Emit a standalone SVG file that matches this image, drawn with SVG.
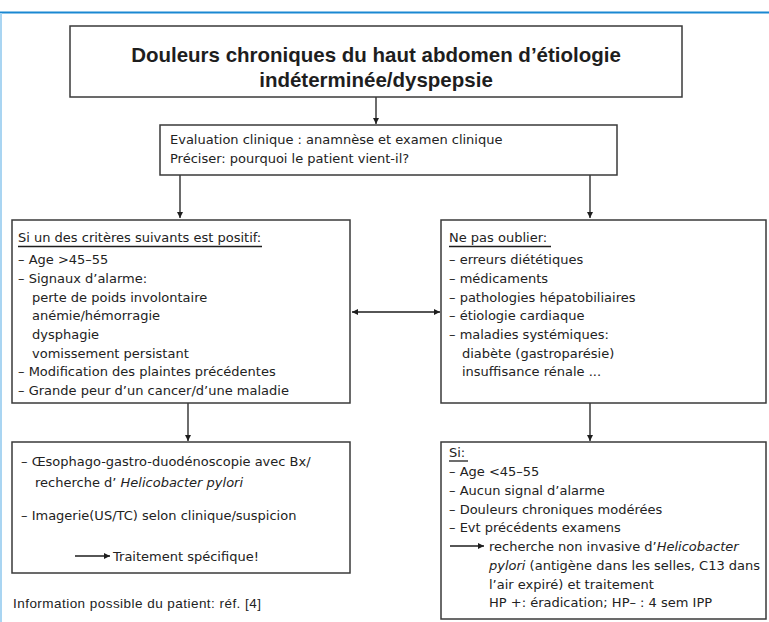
<svg xmlns="http://www.w3.org/2000/svg" width="769" height="622" viewBox="0 0 769 622">
<style>
.box{fill:#fff;stroke:#3a3a3a;stroke-width:1.5}
.t{font-family:"DejaVu Sans","Liberation Sans",Arial,sans-serif;font-size:13px;fill:#222}
.s{font-family:"Liberation Sans",Arial,sans-serif;font-size:13.5px;fill:#222}
.h{font-family:"Liberation Sans",Arial,sans-serif;font-size:20.5px;font-weight:bold;fill:#1e1e1e}
.c{stroke:#1e1e1e;stroke-width:1.3;fill:none}
.u{stroke:#1e1e1e;stroke-width:1.3}
</style>
<defs>
<marker id="ah" viewBox="0 0 8 8" refX="8" refY="4" markerWidth="6" markerHeight="6" markerUnits="userSpaceOnUse" orient="auto-start-reverse">
<path d="M0,0 L8,4 L0,8 z" fill="#1e1e1e"/>
</marker>
</defs>
<rect width="769" height="622" fill="#fff"/>
<line x1="0" y1="12.5" x2="769" y2="12.5" stroke="#1a88d2" stroke-width="2"/>
<line x1="1" y1="13" x2="1" y2="622" stroke="#a9d5f2" stroke-width="2"/>

<g id="connectors">
<line class="c" x1="376" y1="97" x2="376" y2="124" marker-end="url(#ah)"/>
<line class="c" x1="180" y1="175" x2="180" y2="218" marker-end="url(#ah)"/>
<line class="c" x1="590" y1="175" x2="590" y2="218" marker-end="url(#ah)"/>
<line class="c" x1="352" y1="312" x2="440" y2="312" marker-start="url(#ah)" marker-end="url(#ah)"/>
<line class="c" x1="188" y1="403" x2="188" y2="441" marker-end="url(#ah)"/>
<line class="c" x1="590" y1="403" x2="590" y2="441" marker-end="url(#ah)"/>
</g>

<g id="title">
<rect class="box" x="70" y="26" width="612" height="71"/>
<text class="h" x="376" y="62" text-anchor="middle">Douleurs chroniques du haut abdomen d’étiologie</text>
<text class="h" x="376" y="87" text-anchor="middle">indéterminée/dyspepsie</text>
</g>

<g id="evaluation">
<rect class="box" x="160" y="125" width="457" height="50"/>
<text class="t" x="170" y="144">Evaluation clinique : anamnèse et examen clinique</text>
<text class="t" x="170" y="163">Préciser: pourquoi le patient vient-il?</text>
</g>

<g id="criteres">
<rect class="box" x="12" y="220" width="338" height="183"/>
<text class="t" x="18" y="242">Si un des critères suivants est positif:</text>
<line class="u" x1="18" y1="246.5" x2="262" y2="246.5"/>
<text class="t" x="18" y="264">– Age &gt;45–55</text>
<text class="t" x="18" y="283">– Signaux d’alarme:</text>
<text class="t" x="32" y="302">perte de poids involontaire</text>
<text class="t" x="32" y="320">anémie/hémorragie</text>
<text class="t" x="32" y="339">dysphagie</text>
<text class="t" x="32" y="358">vomissement persistant</text>
<text class="t" x="18" y="376">– Modification des plaintes précédentes</text>
<text class="t" x="18" y="395">– Grande peur d’un cancer/d’une maladie</text>
</g>

<g id="oublier">
<rect class="box" x="441" y="220" width="325" height="183"/>
<text class="t" x="449" y="242">Ne pas oublier:</text>
<line class="u" x1="449" y1="246.5" x2="551" y2="246.5"/>
<text class="t" x="449" y="264">– erreurs diététiques</text>
<text class="t" x="449" y="283">– médicaments</text>
<text class="t" x="449" y="302">– pathologies hépatobiliaires</text>
<text class="t" x="449" y="320">– étiologie cardiaque</text>
<text class="t" x="449" y="339">– maladies systémiques:</text>
<text class="t" x="462" y="358">diabète (gastroparésie)</text>
<text class="t" x="462" y="376">insuffisance rénale ...</text>
</g>

<g id="examens">
<rect class="box" x="12" y="442" width="338" height="131"/>
<text class="t" x="21" y="466">– Œsophago-gastro-duodénoscopie avec Bx/</text>
<text class="t" x="35" y="487">recherche d’ <tspan font-style="italic">Helicobacter pylori</tspan></text>
<text class="t" x="21" y="520">– Imagerie(US/TC) selon clinique/suspicion</text>
<line class="c" x1="75" y1="556" x2="110" y2="556" marker-end="url(#ah)"/>
<text class="t" x="113" y="561">Traitement spécifique!</text>
</g>

<g id="si">
<rect class="box" x="441" y="442" width="325" height="177"/>
<text class="t" x="449" y="457">Si:</text>
<line class="u" x1="449" y1="461" x2="468" y2="461"/>
<text class="t" x="449" y="476">– Age &lt;45–55</text>
<text class="t" x="449" y="495">– Aucun signal d’alarme</text>
<text class="t" x="449" y="514">– Douleurs chroniques modérées</text>
<text class="t" x="449" y="532">– Evt précédents examens</text>
<line class="c" x1="450" y1="546" x2="484" y2="546" marker-end="url(#ah)"/>
<text class="t" x="489" y="551">recherche non invasive d’<tspan font-style="italic">Helicobacter</tspan></text>
<text class="t" x="489" y="570"><tspan font-style="italic">pylori</tspan> (antigène dans les selles, C13 dans</text>
<text class="t" x="489" y="589">l’air expiré) et traitement</text>
<text class="t" x="489" y="607">HP +: éradication; HP– : 4 sem IPP</text>
</g>

<text class="s" x="13" y="608" textLength="248" lengthAdjust="spacing">Information possible du patient: réf. [4]</text>
</svg>
